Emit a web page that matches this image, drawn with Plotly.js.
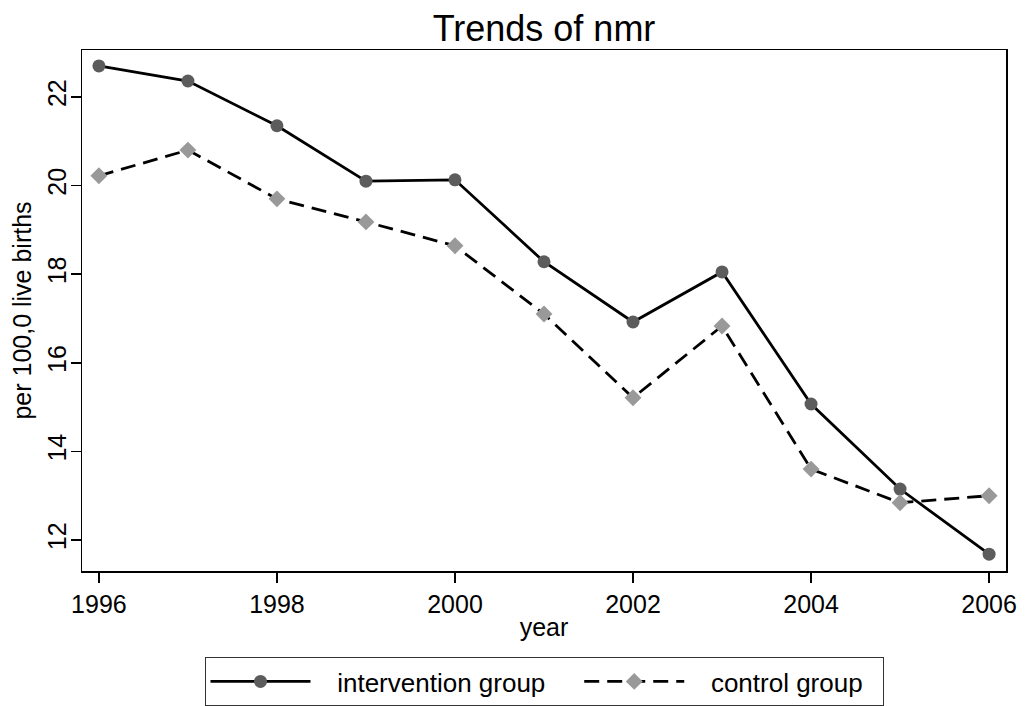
<!DOCTYPE html>
<html>
<head>
<meta charset="utf-8">
<script src="https://cdn.plot.ly/plotly-3.0.1.min.js"></script>
<style>html,body{margin:0;padding:0;background:#fff;}#chart{width:1026px;height:706px;}</style>
</head>
<body>
<div id="chart"></div>
<script>
const years = [1996, 1997, 1998, 1999, 2000, 2001, 2002, 2003, 2004, 2005, 2006];
const intervention = [22.70, 22.36, 21.35, 20.10, 20.13, 18.28, 16.92, 18.05, 15.07, 13.15, 11.68];
const control = [20.22, 20.80, 19.70, 19.18, 18.64, 17.10, 15.21, 16.83, 13.60, 12.84, 13.00];
const xTicks = [1996, 1998, 2000, 2002, 2004, 2006];
const yTicks = [12, 14, 16, 18, 20, 22];
const seriesNames = ['intervention group', 'control group'];

const FONT = 'Liberation Sans, Arial, sans-serif';
const NB = n => '\u00a0'.repeat(n);

const traces = [
  {
    x: years, y: intervention, name: NB(3) + seriesNames[0] + NB(4),
    type: 'scatter', mode: 'lines+markers',
    line: {color: '#000000', width: 2.8},
    marker: {symbol: 'circle', size: 13, color: '#5c5c5c'}
  },
  {
    x: years, y: control, name: NB(3) + seriesNames[1] + NB(2),
    type: 'scatter', mode: 'lines+markers',
    line: {color: '#000000', width: 2.8, dash: '15px,8px'},
    marker: {symbol: 'diamond', size: 13, color: '#999999'}
  }
];

const layout = {
  width: 1026, height: 706,
  paper_bgcolor: '#ffffff', plot_bgcolor: '#ffffff',
  font: {family: FONT, color: '#000000', size: 25},
  margin: {l: 82, r: 20, t: 50, b: 135, pad: 0, autoexpand: false},
  title: {text: 'Trends of nmr', font: {size: 36, family: FONT, color: '#000'},
          x: 0.5, xref: 'paper', xanchor: 'center', y: 1 - 28/706, yref: 'container', yanchor: 'middle'},
  xaxis: {
    range: [1995.81, 2006.19], tickvals: xTicks, ticktext: xTicks.map(String),
    showgrid: false, zeroline: false, showline: true, mirror: true,
    linecolor: '#000', linewidth: 1.5,
    ticks: 'outside', ticklen: 10, tickwidth: 1.5, tickcolor: '#000',
    tickfont: {size: 25}, automargin: false,
    title: {text: 'year', font: {size: 25}, standoff: 2}
  },
  yaxis: {
    range: [11.30, 23.06], tickvals: yTicks, ticktext: yTicks.map(String),
    showgrid: false, zeroline: false, showline: true, mirror: true,
    linecolor: '#000', linewidth: 1.5,
    ticks: 'outside', ticklen: 10, tickwidth: 1.5, tickcolor: '#000',
    tickangle: -90, tickfont: {size: 25}, automargin: false,
    ticklabelstandoff: -5,
    title: {text: 'per 100,0 live births', font: {size: 25}, standoff: 4}
  },
  showlegend: true,
  legend: {
    orientation: 'h', x: 0.5, xanchor: 'center', y: -86/521, yanchor: 'top',
    bordercolor: '#333', borderwidth: 1, bgcolor: '#fff',
    font: {size: 26}, itemwidth: 100, traceorder: 'normal'
  }
};

Plotly.newPlot('chart', traces, layout, {displayModeBar: false, staticPlot: true});
</script>
</body>
</html>
